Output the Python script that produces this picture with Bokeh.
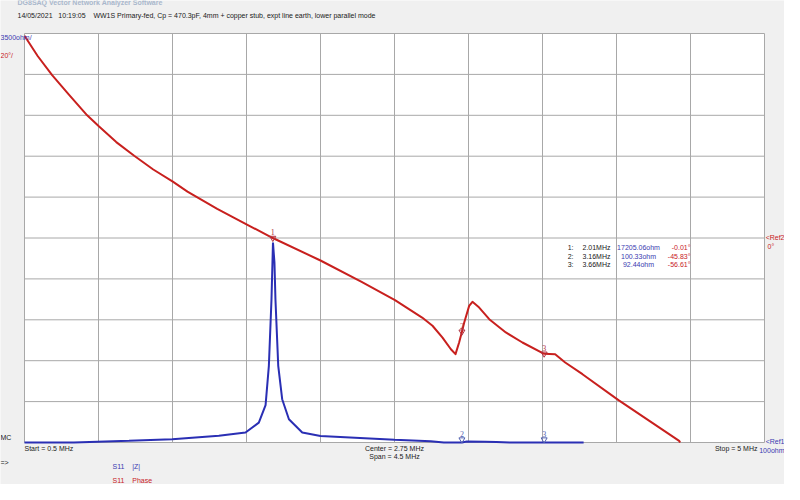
from bokeh.plotting import figure
from bokeh.models import Range1d, Label, ColumnDataSource, BoxAnnotation
from bokeh.embed import file_html
from bokeh.resources import INLINE

# ---------------- data ----------------
NB = "\u00a0"
title_text = "DG8SAQ Vector Network Analyzer Software"
subtitle_text = ("14/05/2021" + NB * 3 + "10:19:05" + NB * 4 +
                 "WW1S Primary-fed, Cp = 470.3pF, 4mm + copper stub, expt line earth, lower parallel mode")

f_start, f_stop = 0.5, 5.0          # MHz
z_ref, z_per_div = 100.0, 3500.0    # ohm
ph_ref, ph_per_div = 0.0, 20.0      # degrees

# S11 phase trace (red)
freq_ph = [0.50, 0.58, 0.668, 0.77, 0.881, 0.952, 1.058, 1.167, 1.283, 1.402, 1.491, 1.672, 1.85,
           2.01, 2.30, 2.55, 2.753, 2.918, 2.981, 3.042, 3.093, 3.121, 3.143, 3.16, 3.174, 3.204,
           3.224, 3.265, 3.326, 3.427, 3.528, 3.66, 3.727, 3.788, 3.893, 4.112, 4.481, 4.487]
phase = [98.9, 89.0, 79.6, 70.1, 60.0, 54.6, 46.9, 40.2, 33.5, 27.6, 22.7, 14.2, 6.7,
         -0.01, -11.0, -21.5, -30.4, -38.9, -42.9, -48.7, -54.4, -56.8, -51.1, -45.83, -41.3, -33.2,
         -31.2, -34.0, -39.7, -46.2, -51.1, -56.61, -56.8, -60.9, -66.6, -79.3, -99.2, -100.0]

# S11 |Z| trace (blue)
freq_z = [0.50, 0.78, 0.80, 1.135, 1.398, 1.682, 1.844, 1.925, 1.966, 1.986, 2.002, 2.011, 2.020,
          2.026, 2.043, 2.067, 2.108, 2.189, 2.30, 2.75, 2.97, 3.05, 3.16, 3.19, 3.30, 3.37,
          3.45, 3.66, 3.90]
zmag = [96, 100, 110, 245, 385, 670, 955, 1800, 3300, 6660, 12360, 17205.06, 15500,
        12360, 6660, 3805, 2090, 955, 650, 330, 200, 97, 100.33, 180, 170, 150,
        105, 98, 96]

# markers
marker_id = ["1", "2", "3"]
marker_f = [2.01, 3.16, 3.66]
marker_z = [17205.06, 100.33, 92.44]
marker_ph = [-0.01, -45.83, -56.61]

# ---------------- colours / geometry ----------------
RED = "#c8201e"
BLUE = "#2a2fb4"
GRID = "#a8a8a8"
BG = "#f0f0f0"
FONT = "Liberation Sans"

W, H = 784, 484
L, T = 24, 33          # plot-area offset inside the figure
FW, FH = 740, 409      # plot-area size

z_top = z_ref + 10 * z_per_div
ph_top = ph_ref + 5 * ph_per_div
ph_bot = ph_ref - 5 * ph_per_div
span = f_stop - f_start


# reference-pixel -> data helpers (reference picture includes the 8 px page margin)
def fx(xr):
    return f_start + ((xr - 8) - L) / FW * span


def fy(yr):
    return ph_top - ((yr - 8) - T) / FH * (ph_top - ph_bot)


def fz(yr):
    return z_top - ((yr - 8) - T) / FH * (z_top - z_ref)


p = figure(width=W, height=H, output_backend="svg", toolbar_location=None,
           x_range=Range1d(fx(8), fx(8 + W)), y_range=Range1d(fy(8 + H), fy(8)),
           x_axis_type=None, y_axis_type=None,
           min_border_left=0, min_border_right=0, min_border_top=0, min_border_bottom=0)
p.extra_y_ranges = {"z": Range1d(fz(8 + H), fz(8))}
p.background_fill_color = BG
p.border_fill_color = BG
p.outline_line_color = None

# white plot area
p.add_layout(BoxAnnotation(left=f_start, right=f_stop, bottom=ph_bot, top=ph_top,
                           fill_color="white", fill_alpha=1.0, line_color=None,
                           level="underlay"))
# grid (10 x 10 divisions) and frame
gx = [f_start + span / 10 * i for i in range(0, 11)]
gy = [ph_bot + ph_per_div * i for i in range(0, 11)]
p.segment(x0=gx, x1=gx, y0=[ph_bot] * len(gx), y1=[ph_top] * len(gx),
          line_color=GRID, line_width=1)
p.segment(x0=[f_start] * len(gy), x1=[f_stop] * len(gy), y0=gy, y1=gy,
          line_color=GRID, line_width=1)

p.line(freq_z, zmag, line_color=BLUE, line_width=2, y_range_name="z")
p.line(freq_ph, phase, line_color=RED, line_width=2, line_join="round")

# markers on traces
msrc = ColumnDataSource(dict(f=marker_f, ph=marker_ph, id=marker_id))
p.scatter("f", "ph", source=msrc, marker="inverted_triangle", size=6, fill_color=None,
          line_color="#b03040", line_width=1)
p.text("f", "ph", text="id", source=msrc, text_color="#b03040", text_font_size="8px",
       text_align="center", text_baseline="bottom", y_offset=-3, text_font=FONT)
bsrc = ColumnDataSource(dict(f=marker_f[1:], zc=[z_ref + 250 for _ in marker_f[1:]], id=marker_id[1:]))
p.scatter("f", "zc", source=bsrc, marker="inverted_triangle", size=6, fill_color=None,
          line_color="#5060b0", line_width=1, y_range_name="z")
p.text("f", "zc", text="id", source=bsrc, text_color="#5060b0", text_font_size="8px",
       text_align="center", text_baseline="bottom", y_offset=-3, text_font=FONT, y_range_name="z")


def lab(xr, yr, text, color, align="left", size="7px", bold=False):
    p.add_layout(Label(x=fx(xr), y=fy(yr), text=text, text_color=color, text_align=align,
                       text_baseline="middle", text_font_size=size, text_font=FONT,
                       text_font_style="bold" if bold else "normal"))


lab(25, 10, title_text, "#a9b7cc", bold=True)
lab(25, 23, subtitle_text, "#202020")
lab(8, 45, f"{int(z_per_div)}ohm/", "#3a3ab0")
lab(8, 63, f"{int(ph_per_div)}°/", RED)
lab(8, 445, "MC", "#202020")
lab(8, 470, "=>", "#202020")
lab(32, 456, f"Start = {f_start} MHz", "#202020")
lab(402, 456, f"Center = {(f_start + f_stop) / 2} MHz", "#202020", align="center")
lab(402, 464, f"Span = {span} MHz", "#202020", align="center")
lab(765, 456, f"Stop = {f_stop:g} MHz", "#202020", align="right")
lab(792, 449, "<Ref1", "#3a3ab0", align="right")
lab(792, 458, f"{int(z_ref)}ohm", "#3a3ab0", align="right")
lab(792, 245, "<Ref2", RED, align="right")
lab(775, 254, f"{int(ph_ref)}°", RED)
lab(120, 474, "S11" + NB * 4 + "|Z|", "#3a3ab0")
lab(120, 488, "S11" + NB * 4 + "Phase", RED)

for i in range(len(marker_id)):
    yr = 255 + i * 8.5
    lab(581, yr, f"{marker_id[i]}:", "#202020", align="right")
    lab(590, yr, f"{marker_f[i]:.2f}MHz", "#202020")
    lab(646, yr, f"{marker_z[i]:.2f}ohm", "#3a3ab0", align="center")
    lab(698, yr, f"{marker_ph[i]:.2f}°", RED, align="right")

open("out.html", "w").write(file_html(p, INLINE))
